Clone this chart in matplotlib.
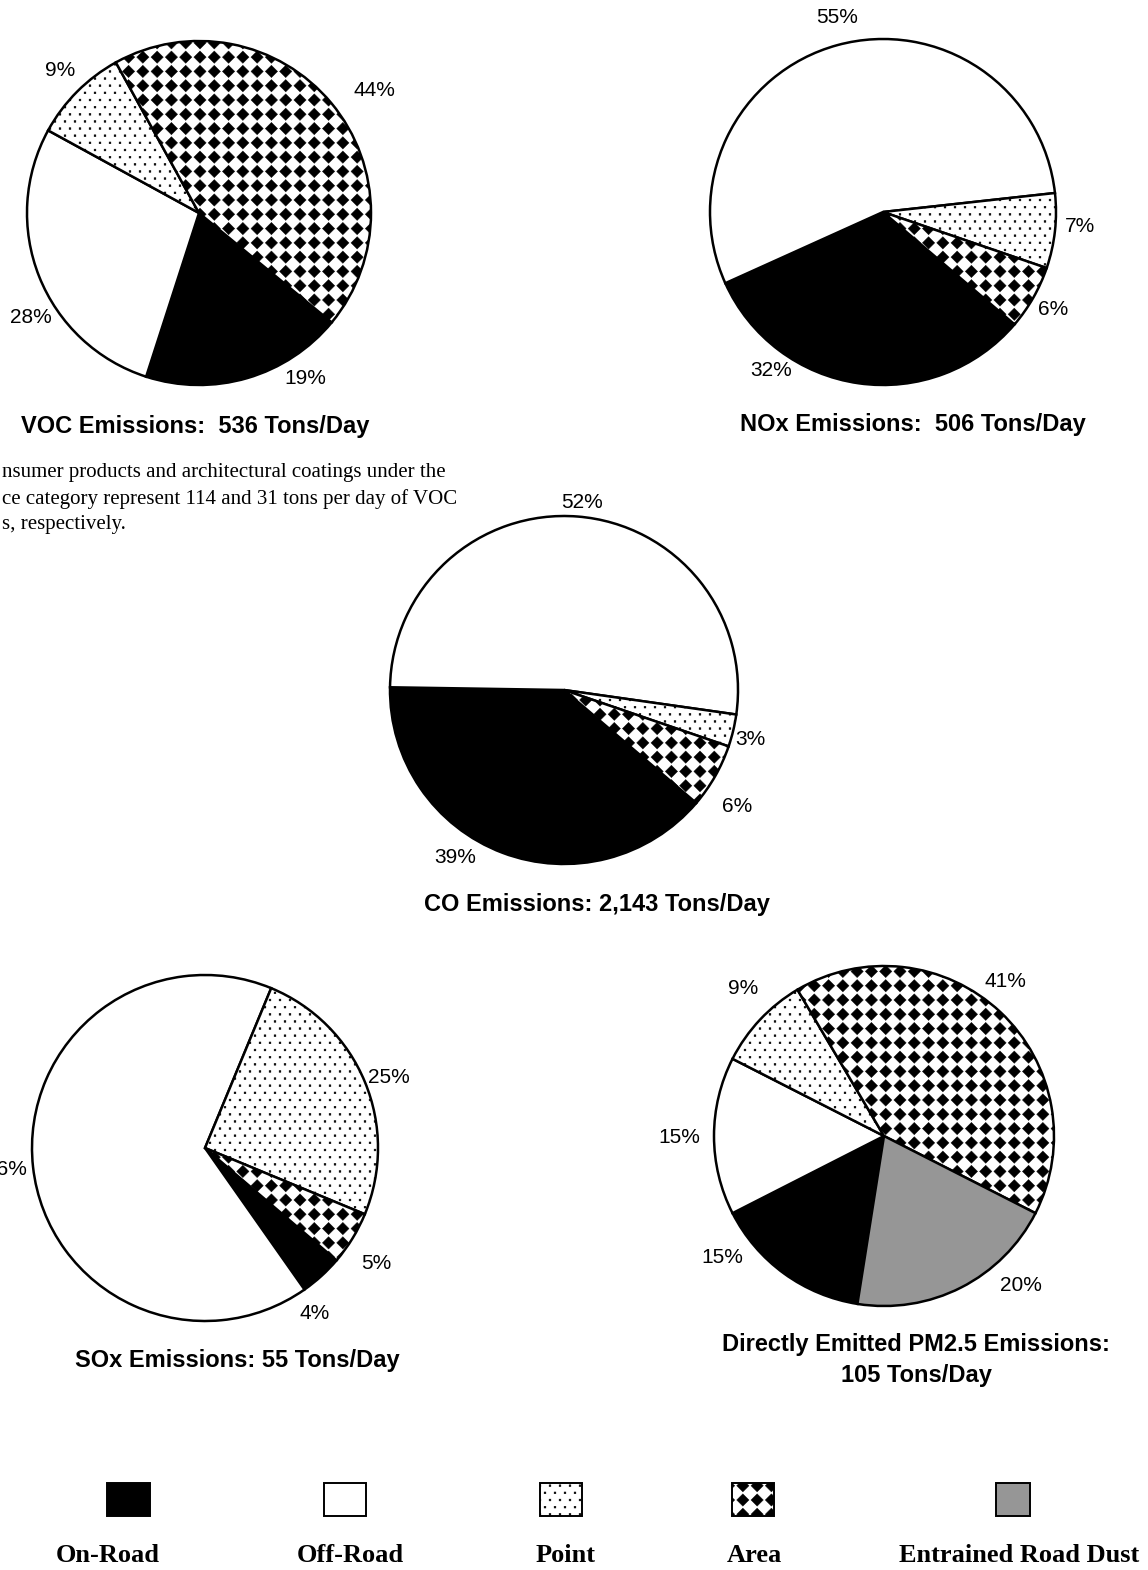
import numpy as np
import matplotlib
matplotlib.use("Agg")
import matplotlib.pyplot as plt
import matplotlib.hatch as mhatch
from matplotlib.path import Path
from matplotlib.patches import Rectangle

# ---------------- data ----------------
categories = ["On-Road", "Off-Road", "Point", "Area", "Entrained Road Dust"]

voc_values = [19, 28, 9, 44]
nox_values = [32, 55, 7, 6]
co_values = [39, 52, 3, 6]
sox_values = [4, 66, 25, 5]
pm_values = [15, 15, 9, 41, 20]

voc_title = "VOC Emissions:  536 Tons/Day"
nox_title = "NOx Emissions:  506 Tons/Day"
co_title = "CO Emissions: 2,143 Tons/Day"
sox_title = "SOx Emissions: 55 Tons/Day"
pm_title = "Directly Emitted PM2.5 Emissions:\n105 Tons/Day"

footnote_lines = [
    "nsumer products and architectural coatings under the",
    "ce category represent 114 and 31 tons per day of VOC",
    "s, respectively.",
]

# ---------------- custom hatch textures ----------------
class DotGrid(mhatch.HatchPatternBase):
    cols = 10
    rows = 14
    r = 0.009

    def __init__(self, hatch, density):
        self.on = hatch.count('o') > 0
        if self.on:
            n = 0
            for row in range(self.rows + 1):
                n += (self.cols + 1) if row % 2 == 0 else self.cols
            self.num_vertices = n * 5
        else:
            self.num_vertices = 0

    def set_vertices_and_codes(self, vertices, codes):
        r = self.r
        base = np.array([[-r, -r], [r, -r], [r, r], [-r, r], [-r, -r]])
        bc = [Path.MOVETO, Path.LINETO, Path.LINETO, Path.LINETO, Path.CLOSEPOLY]
        k = 0
        for row in range(self.rows + 1):
            y = row / self.rows
            if row % 2 == 0:
                xs = np.arange(self.cols + 1) / self.cols
            else:
                xs = (np.arange(self.cols) + 0.5) / self.cols
            for x in xs:
                vertices[k:k + 5] = base + [x, y]
                codes[k:k + 5] = bc
                k += 5


class DiamondGrid(mhatch.HatchPatternBase):
    n = 7
    frac = 0.43

    def __init__(self, hatch, density):
        self.on = hatch.count('O') > 0
        if self.on:
            self.num_vertices = (self.n + 1) ** 2 * 5
        else:
            self.num_vertices = 0

    def set_vertices_and_codes(self, vertices, codes):
        h = self.frac / self.n
        base = np.array([[0, -h], [h, 0], [0, h], [-h, 0], [0, -h]])
        bc = [Path.MOVETO, Path.LINETO, Path.LINETO, Path.LINETO, Path.CLOSEPOLY]
        k = 0
        for i in range(self.n + 1):
            for j in range(self.n + 1):
                vertices[k:k + 5] = base + [i / self.n, j / self.n]
                codes[k:k + 5] = bc
                k += 5


mhatch._hatch_types[:] = [DotGrid, DiamondGrid]

plt.rcParams['hatch.linewidth'] = 0.3
plt.rcParams['hatch.color'] = 'black'

# ---------------- styles ----------------
colors = ["black", "white", "white", "white", "#969696"]
hatches = [None, None, "o", "O", None]

W, H = 1148, 1570
fig = plt.figure(figsize=(W / 100, H / 100), dpi=100)
fig.patch.set_facecolor("white")

SANS = "Liberation Sans"
SERIF = "Liberation Serif"


def draw_pie(values, cx, cy, R, start, label_pos, title, title_xy):
    k = 1.03
    ax = fig.add_axes([(cx - k * R) / W, (H - cy - k * R) / H, 2 * k * R / W, 2 * k * R / H])
    n = len(values)
    wedges, _ = ax.pie(values, colors=colors[:n], startangle=start, counterclock=False,
                       radius=1.0, wedgeprops=dict(edgecolor="black", linewidth=1.8))
    for w, h in zip(wedges, hatches[:n]):
        if h:
            w.set_hatch(h)
    ax.set_xlim(-k, k)
    ax.set_ylim(-k, k)
    ax.set_aspect("equal")
    ax.axis("off")
    for v, (dx, dy) in zip(values, label_pos):
        ax.text(dx, dy, f"{v}%", ha="center", va="center", fontsize=15,
                family=SANS, clip_on=False)
    fig.text(title_xy[0] / W, 1 - title_xy[1] / H, title, ha="center", va="center",
             fontsize=17, weight="bold", family=SANS, linespacing=1.4)
    return ax


draw_pie(voc_values, 199, 213, 172, -39.5,
         [(0.616, -0.96), (-0.977, -0.605), (-0.81, 0.83), (1.02, 0.715)],
         voc_title, (195, 426))
draw_pie(nox_values, 883, 212, 173, -40.5,
         [(-0.647, -0.919), (-0.266, 1.127), (1.139, -0.081), (0.983, -0.561)],
         nox_title, (913, 424))
draw_pie(co_values, 564, 690, 174, -40.5,
         [(-0.626, -0.96), (0.103, 1.08), (1.069, -0.282), (0.994, -0.667)],
         co_title, (597, 904))
draw_pie(sox_values, 205, 1148, 173, -40.5,
         [(0.636, -0.954), (-1.15, -0.127), (1.064, 0.41), (0.988, -0.67)],
         sox_title, (237, 1360))
draw_pie(pm_values, 884, 1136, 170, -99,
         [(-0.953, -0.712), (-1.206, -0.006), (-0.83, 0.87), (0.712, 0.906), (0.806, -0.882)],
         pm_title, (916, 1360))

# footnote
for i, line in enumerate(footnote_lines):
    fig.text(2 / W, 1 - (473 + 26 * i) / H, line, ha="left", va="center",
             fontsize=15, family=SERIF)

# ---------------- legend ----------------
lax = fig.add_axes([0, 0, 1, 1], zorder=5)
lax.set_xlim(0, W)
lax.set_ylim(H, 0)
lax.axis("off")
legend_boxes = [(107, 43), (324, 42), (540, 42), (732, 42), (996, 34)]
legend_text_x = [108, 350, 566, 754, 1019]
for (x0, w), c, h, lab, tx in zip(legend_boxes, colors, hatches, categories, legend_text_x):
    rect = Rectangle((x0, 1483), w, 33, facecolor=c, edgecolor="black", linewidth=1.4,
                     hatch=h)
    lax.add_patch(rect)
    lax.text(tx, 1556, lab, ha="center", va="center", fontsize=19, weight="bold",
             family=SERIF)

fig.savefig("out.png", dpi=100, facecolor="white")
